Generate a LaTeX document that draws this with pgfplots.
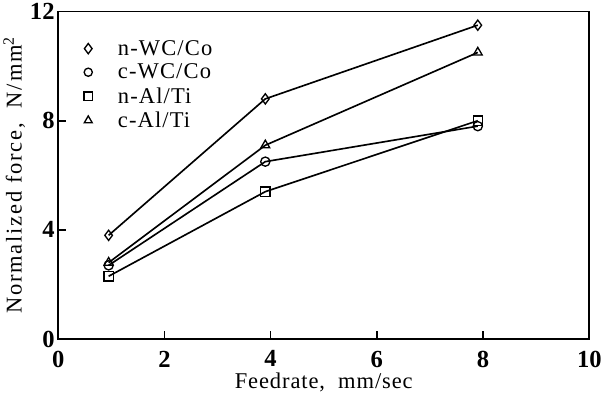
\documentclass[border=0pt]{standalone}
\usepackage{pgfplots}
\pgfplotsset{compat=1.18}
\usepackage{fontspec}
\setmainfont{Liberation Serif}
\begin{document}
\begin{tikzpicture}
\begin{axis}[
  scale only axis, width=519pt, height=320pt,
  xmin=0, xmax=10, ymin=0, ymax=12,
  xtick={0,2,4,6,8,10}, ytick={0,4,8,12},
  xtick pos=bottom, ytick pos=left, tick align=inside,
  major tick length=8pt,
  axis line style={line width=1.6pt},
  every tick/.style={line width=1.6pt, black},
  tick label style={font=\fontsize{24}{24}\selectfont\bfseries},
  xticklabel style={yshift=-8pt},
  /pgf/number format/assume math mode=true,
  xlabel={Feedrate,\ \ mm/sec},
  ylabel={Normalized force,\ \ N/mm\textsuperscript{2}},
  xlabel style={font=\fontsize{22}{22}\selectfont\addfontfeatures{LetterSpace=4}, yshift=2pt},
  ylabel style={font=\fontsize{22}{22}\selectfont\addfontfeatures{LetterSpace=8}, yshift=-2pt},
  legend style={at={(0.025,0.925)}, anchor=north west, draw=none, fill=none,
    font=\fontsize{22}{22}\selectfont\addfontfeatures{LetterSpace=5}, row sep=3pt, inner sep=2pt},
  legend image code/.code={\path[draw=none,fill=none] (0cm,0cm) -- (1.45cm,0cm); \draw[#1] plot coordinates {(0.5cm,0cm)};},
  legend cell align=left,
  every axis plot/.append style={black, line width=1.6pt, mark options={solid, fill=white, line width=1.3pt}},
]
\addlegendimage{only marks, mark=diamond, mark size=5pt, black, mark options={line width=1.3pt}}
\addlegendentry{n-WC/Co}
\addlegendimage{only marks, mark=o, mark size=4pt, black, mark options={line width=1.3pt}}
\addlegendentry{c-WC/Co}
\addlegendimage{only marks, mark=square, mark size=4pt, black, mark options={line width=1.3pt}}
\addlegendentry{n-Al/Ti}
\addlegendimage{only marks, mark=triangle, mark size=4.5pt, black, mark options={line width=1.3pt}}
\addlegendentry{c-Al/Ti}

\addplot[forget plot, mark=diamond, mark size=5pt] coordinates {(0.95,3.8) (3.9,8.8) (7.9,11.5)};
\addplot[forget plot, mark=o, mark size=4.5pt] coordinates {(0.95,2.7) (3.9,6.5) (7.9,7.8)};
\addplot[forget plot, mark=square, mark size=4.5pt] coordinates {(0.95,2.3) (3.9,5.4) (7.9,8.0)};
\addplot[forget plot, mark=triangle, mark size=5pt] coordinates {(0.95,2.8) (3.9,7.1) (7.9,10.5)};
\end{axis}
\end{tikzpicture}
\end{document}
